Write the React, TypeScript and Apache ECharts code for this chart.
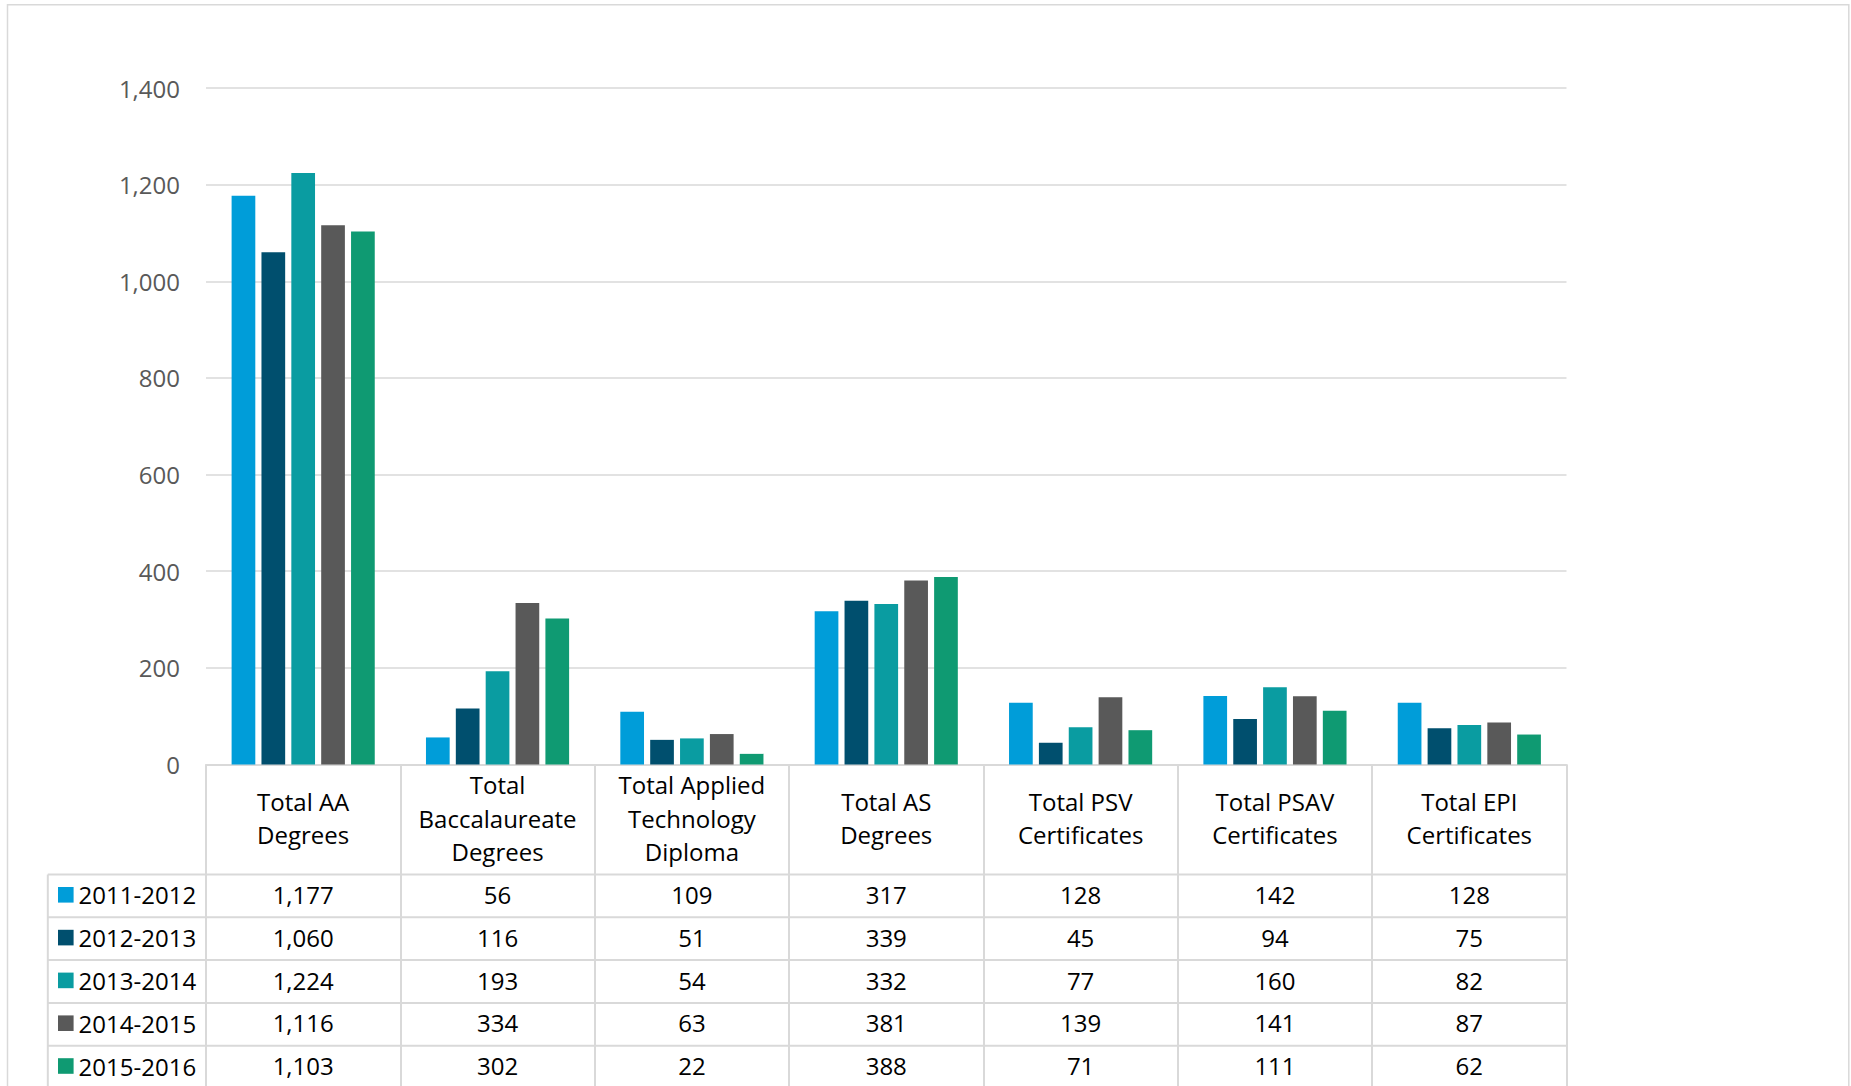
import React, { useEffect, useRef } from "react";
import * as echarts from "echarts";

const categories = [
  "Total AA\nDegrees",
  "Total\nBaccalaureate\nDegrees",
  "Total Applied\nTechnology\nDiploma",
  "Total AS\nDegrees",
  "Total PSV\nCertificates",
  "Total PSAV\nCertificates",
  "Total EPI\nCertificates",
];
const years = ["2011-2012", "2012-2013", "2013-2014", "2014-2015", "2015-2016"];
const y2011 = [1177, 56, 109, 317, 128, 142, 128];
const y2012 = [1060, 116, 51, 339, 45, 94, 75];
const y2013 = [1224, 193, 54, 332, 77, 160, 82];
const y2014 = [1116, 334, 63, 381, 139, 141, 87];
const y2015 = [1103, 302, 22, 388, 71, 111, 62];
const seriesValues = [y2011, y2012, y2013, y2014, y2015];
const colors = ["#009DD9", "#004F6E", "#0A9CA1", "#595959", "#0F9A72"];
const yTicks = [0, 200, 400, 600, 800, 1000, 1200, 1400];

const FONT = "'Open Sans', 'Noto Sans', sans-serif";
const LINE = "#D9D9D9";

export default function App() {
  const ref = useRef<HTMLDivElement>(null);
  useEffect(() => {
    if (!ref.current) return;
    const chart = echarts.init(ref.current, null, { renderer: "svg" });
    const gridLeft = 206;
    const gridRight = 1851 - 1566.5;
    const gridTop = 88;
    const gridBottom = 1086 - 764.5;
    const option: any = {
      animation: false,
      backgroundColor: "#ffffff",
      textStyle: { fontFamily: FONT },
      grid: { left: gridLeft, right: gridRight, top: gridTop, bottom: gridBottom, containLabel: false },
      legend: {
        data: years,
        orient: "vertical",
        left: 58,
        top: 882.8,
        padding: 0,
        itemGap: 18.8,
        itemWidth: 15.6,
        itemHeight: 15.6,
        icon: "rect",
        selectedMode: false,
        textStyle: { fontSize: 24, color: "#000000", lineHeight: 24, fontFamily: FONT },
      },
      xAxis: {
        type: "category",
        data: categories,
        axisLine: { show: true, lineStyle: { color: LINE, width: 2 } },
        axisTick: { show: true, interval: 0, length: 340, lineStyle: { color: LINE, width: 2 } },
        axisLabel: {
          interval: 0,
          margin: 53.5,
          verticalAlign: "middle",
          fontSize: 24,
          lineHeight: 33.5,
          color: "#000000",
          fontFamily: FONT,
          align: "center",
        },
        splitLine: { show: false },
      },
      yAxis: {
        type: "value",
        min: yTicks[0],
        max: yTicks[yTicks.length - 1],
        interval: yTicks[1] - yTicks[0],
        axisLine: { show: false },
        axisTick: { show: false },
        axisLabel: {
          margin: 26,
          fontSize: 24,
          color: "#595959",
          fontFamily: FONT,
          padding: [0, 0, 6, 0],
          formatter: (v: number) => v.toLocaleString("en-US"),
        },
        splitLine: { lineStyle: { color: LINE, width: 1.5 } },
      },
      series: years.map((name, i) => ({
        name,
        type: "bar",
        data: seriesValues[i],
        barWidth: 23.7,
        barGap: "26%",
        itemStyle: { color: colors[i] },
      })),
    };
    chart.setOption(option);

    const xs = categories.map((_, i) => chart.convertToPixel({ xAxisIndex: 0 }, i) as number);
    const rowTop = 874.5;
    const rowH = 42.8;
    const tableLeft = 47.8;
    const tableRight = 1566.5;
    const graphics: any[] = [];
    graphics.push({
      type: "rect",
      shape: { x: 7.5, y: 4.7, width: 1841.3, height: 1200 },
      style: { fill: "none", stroke: LINE, lineWidth: 1.5 },
      silent: true,
      z: 0,
    });
    for (let k = 0; k <= 5; k++) {
      graphics.push({
        type: "line",
        shape: { x1: tableLeft, y1: rowTop + k * rowH, x2: tableRight, y2: rowTop + k * rowH },
        style: { stroke: LINE, lineWidth: 2 },
        silent: true,
      });
    }
    graphics.push({
      type: "line",
      shape: { x1: tableLeft, y1: rowTop, x2: tableLeft, y2: 1100 },
      style: { stroke: LINE, lineWidth: 2 },
      silent: true,
    });
    seriesValues.forEach((vals, r) => {
      vals.forEach((v, c) => {
        graphics.push({
          type: "text",
          x: xs[c],
          y: rowTop + r * rowH + rowH / 2 - 1.5,
          style: {
            text: v.toLocaleString("en-US"),
            fontSize: 24,
            fontFamily: FONT,
            fill: "#000000",
            align: "center",
            verticalAlign: "middle",
          },
          silent: true,
        });
      });
    });
    chart.setOption({ graphic: graphics });
    return () => chart.dispose();
  }, []);
  return (
    <div
      ref={ref}
      style={{ position: "absolute", left: 0, top: 0, width: 1851, height: 1086, background: "#fff" }}
    />
  );
}
